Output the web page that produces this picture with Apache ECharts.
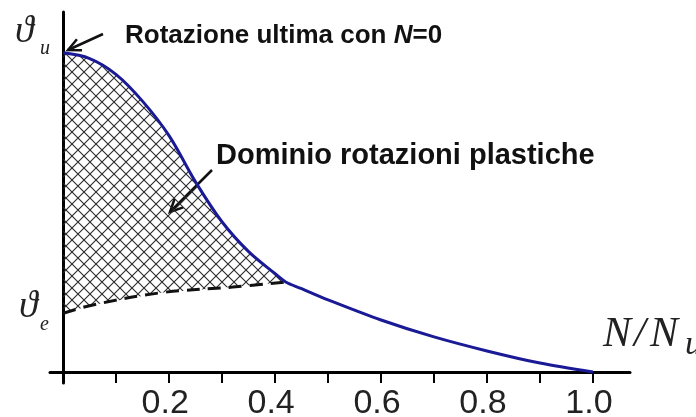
<!DOCTYPE html>
<html>
<head>
<meta charset="utf-8">
<script src="https://cdn.jsdelivr.net/npm/echarts@6/dist/echarts.min.js"></script>
<style>
html, body { margin: 0; padding: 0; background: #fff; }
#main { width: 696px; height: 417px; }
</style>
</head>
<body>
<div id="main"></div>
<script>
// curva delle rotazioni ultime (blu)
var curveX = [0, 0.05, 0.10, 0.15, 0.20, 0.25, 0.30, 0.35, 0.40, 0.42, 0.45, 0.50, 0.60, 0.70, 0.80, 0.90, 1.0];
var curveY = [1.0, 0.982, 0.932, 0.848, 0.740, 0.595, 0.470, 0.377, 0.308, 0.282, 0.261, 0.226, 0.163, 0.110, 0.066, 0.028, 0];
// limite elastico (tratteggiato)
var elasticX = [0, 0.056, 0.183, 0.320, 0.420];
var elasticY = [0.184, 0.210, 0.248, 0.266, 0.282];
// tacche e etichette asse N/Nu
var tickValues = [0.1, 0.2, 0.3, 0.4, 0.5, 0.6, 0.7, 0.8, 0.9, 1.0];
var labelValues = [0.2, 0.4, 0.6, 0.8, 1.0];

var myChart = echarts.init(document.getElementById('main'));

// tratteggio incrociato
var hatch = document.createElement('canvas');
hatch.width = 12;
hatch.height = 12;
var ctx = hatch.getContext('2d');
ctx.strokeStyle = '#2a2a2a';
ctx.lineWidth = 1.1;
ctx.beginPath();
ctx.moveTo(0, 0); ctx.lineTo(12, 12);
ctx.moveTo(12, 0); ctx.lineTo(0, 12);
ctx.stroke();

function toPairs(xs, ys) {
    var out = [];
    for (var i = 0; i < xs.length; i++) out.push([xs[i], ys[i]]);
    return out;
}

function renderHatch(params, api) {
    var xEnd = elasticX[elasticX.length - 1];
    var pts = [];
    for (var i = 0; i < curveX.length; i++) {
        if (curveX[i] <= xEnd) pts.push(api.coord([curveX[i], curveY[i]]));
    }
    for (var j = elasticX.length - 1; j >= 0; j--) {
        pts.push(api.coord([elasticX[j], elasticY[j]]));
    }
    return {
        type: 'polygon',
        shape: { points: pts },
        style: { fill: { image: hatch, repeat: 'repeat' } }
    };
}

function arrow(tail, tip) {
    var ang = Math.atan2(tail[1] - tip[1], tail[0] - tip[0]);
    var len = 14, spread = 0.45;
    var a = [tip[0] + len * Math.cos(ang + spread), tip[1] + len * Math.sin(ang + spread)];
    var b = [tip[0] + len * Math.cos(ang - spread), tip[1] + len * Math.sin(ang - spread)];
    return [
        { type: 'line', shape: { x1: tail[0], y1: tail[1], x2: tip[0], y2: tip[1] }, style: { stroke: '#111', lineWidth: 2.5 } },
        { type: 'polyline', shape: { points: [a, tip, b] }, style: { stroke: '#111', lineWidth: 2.5, fill: null } }
    ];
}

var serif = '"Liberation Serif", "DejaVu Serif", serif';
var sans = '"Liberation Sans", Arial, sans-serif';

var graphics = [
    { type: 'text', left: 125, top: 23, style: { text: 'Rotazione ultima con {n|N}=0', font: 'bold 26px ' + sans, fill: '#111',
        rich: { n: { fontStyle: 'italic', fontWeight: 'bold', fontSize: 26, fontFamily: sans, fill: '#111' } } } },
    { type: 'text', left: 216, top: 141, style: { text: 'Dominio rotazioni plastiche', font: 'bold 29px ' + sans, fill: '#111' } },
    { type: 'text', left: 15, top: 13, style: { text: 'ϑ', font: 'italic 38px ' + serif, fill: '#222' } },
    { type: 'text', left: 40, top: 39, style: { text: 'u', font: 'italic 20px ' + serif, fill: '#222' } },
    { type: 'text', left: 19, top: 288, style: { text: 'ϑ', font: 'italic 38px ' + serif, fill: '#222' } },
    { type: 'text', left: 40, top: 315, style: { text: 'e', font: 'italic 20px ' + serif, fill: '#222' } },
    { type: 'text', left: 603, top: 314, style: { text: 'N', font: 'italic 42px ' + serif, fill: '#222' } },
    { type: 'text', left: 634, top: 314, style: { text: '/', font: 'italic 42px ' + serif, fill: '#222' } },
    { type: 'text', left: 650, top: 314, style: { text: 'N', font: 'italic 42px ' + serif, fill: '#222' } },
    { type: 'text', left: 685, top: 328, style: { text: 'u', font: 'italic 34px ' + serif, fill: '#222' } }
].concat(arrow([103, 34], [68, 50]), arrow([212, 170], [170, 212]));

var option = {
    animation: false,
    backgroundColor: '#fff',
    grid: { left: 50, right: 66, top: 12, bottom: 34, outerBoundsMode: 'none', containLabel: false },
    xAxis: [
        {
            type: 'value', min: -0.025, max: 1.07, position: 'bottom',
            axisLine: { onZero: true, lineStyle: { color: '#000', width: 3 } },
            axisTick: { customValues: tickValues, length: 8, lineStyle: { color: '#000', width: 2 } },
            axisLabel: {
                customValues: labelValues, margin: 4, color: '#222', fontSize: 34, fontFamily: sans,
                padding: [0, 8, 0, 0],
                formatter: function (v) { return v.toFixed(1); }
            },
            splitLine: { show: false }
        },
        {
            type: 'value', min: -0.025, max: 1.07, position: 'bottom',
            axisLine: { onZero: true, lineStyle: { opacity: 0 } },
            axisTick: { inside: true, customValues: tickValues, length: 10, lineStyle: { color: '#000', width: 2 } },
            axisLabel: { show: false },
            splitLine: { show: false }
        }
    ],
    yAxis: {
        type: 'value', min: -0.0345, max: 1.128,
        axisLine: { onZero: true, lineStyle: { color: '#000', width: 3 } },
        axisTick: { show: false },
        axisLabel: { show: false },
        splitLine: { show: false }
    },
    series: [
        {
            type: 'custom', renderItem: renderHatch, data: [[0, 0]], z: 1, silent: true
        },
        {
            type: 'line', data: toPairs(elasticX, elasticY), smooth: 0.4, showSymbol: false, symbol: 'none',
            lineStyle: { color: '#111', width: 3, type: [13, 8] }, z: 3
        },
        {
            type: 'line', data: toPairs(curveX, curveY), smooth: 0.35, showSymbol: false, symbol: 'none',
            lineStyle: { color: '#1a1a96', width: 3 }, z: 4
        }
    ],
    graphic: graphics
};

myChart.setOption(option);
</script>
</body>
</html>
